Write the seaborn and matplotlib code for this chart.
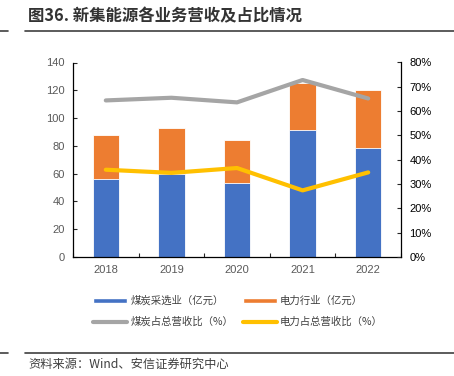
import numpy as np
import pandas as pd
import seaborn as sns
import matplotlib.pyplot as plt
from matplotlib.patches import Patch
from matplotlib.lines import Line2D

years = ["2018", "2019", "2020", "2021", "2022"]
coal_rev = [56.2, 60.0, 53.4, 91.1, 78.3]
power_rev = [31.6, 32.5, 30.6, 34.2, 42.0]
coal_share = [64.4, 65.5, 63.6, 72.8, 65.2]
power_share = [35.9, 34.6, 36.6, 27.4, 34.8]

BLUE = "#4472C4"
ORANGE = "#ED7D31"
GRAY = "#A5A5A5"
YELLOW = "#FFC000"

sns.set_style("white")
plt.rcParams["font.family"] = ["Noto Sans CJK SC", "DejaVu Sans"]

df = pd.DataFrame({
    "year": years,
    "coal": coal_rev,
    "total": np.array(coal_rev) + np.array(power_rev),
    "coal_share": coal_share,
    "power_share": power_share,
})

fig = plt.figure(figsize=(4.54, 3.76), dpi=100)
ax = fig.add_axes([73 / 454, 1 - 257 / 376, (401 - 73) / 454, (257 - 62.5) / 376])

# stacked bars: total in orange, coal part drawn over it
sns.barplot(data=df, x="year", y="total", color=ORANGE, width=0.4,
            edgecolor="white", linewidth=0.6, saturation=1, ax=ax)
sns.barplot(data=df, x="year", y="coal", color=BLUE, width=0.4,
            edgecolor="white", linewidth=0.6, saturation=1, ax=ax)

ax2 = ax.twinx()
xpos = np.arange(len(years))
sns.lineplot(x=xpos, y=df["coal_share"], color=GRAY, linewidth=3, ax=ax2)
sns.lineplot(x=xpos, y=df["power_share"], color=YELLOW, linewidth=3, ax=ax2)

ax.set_xlim(-0.5, 4.5)
ax.set_ylim(0, 140)
ax.set_yticks(range(0, 141, 20))
ax2.set_ylim(0, 80)
ax2.set_yticks(range(0, 81, 10))
ax2.set_yticklabels([f"{v}%" for v in range(0, 81, 10)])
ax.set_xlabel("")
ax.set_ylabel("")
ax2.set_ylabel("")

for a in (ax, ax2):
    for s in a.spines.values():
        s.set_visible(False)
ax.spines["left"].set_visible(True)
ax.spines["bottom"].set_visible(True)
ax2.spines["right"].set_visible(True)
for s in (ax.spines["left"], ax.spines["bottom"], ax2.spines["right"]):
    s.set_color("black")
    s.set_linewidth(0.9)

tick_font = "Liberation Sans"
ax.tick_params(axis="y", direction="in", length=3, width=0.8, left=True,
               labelsize=8, labelcolor="#595959", pad=6)
ax.tick_params(axis="x", which="major", length=0, labelsize=8,
               labelcolor="#595959", pad=6)
ax.set_xticks(np.arange(-0.5, 5, 1), minor=True)
ax.tick_params(axis="x", which="minor", direction="in", length=3, width=0.8, bottom=True)
ax2.tick_params(axis="y", direction="in", length=3, width=0.8, right=True,
                labelsize=8, labelcolor="black", pad=6)
for lab in ax.get_xticklabels() + ax.get_yticklabels() + ax2.get_yticklabels():
    lab.set_fontfamily(tick_font)

# title and frame lines
fig.text(28 / 454, 1 - 16 / 376, "图36. 新集能源各业务营收及占比情况", fontsize=11.8,
         fontweight="bold", color="#333333", va="center", ha="left")
for yy in (30.5, 353):
    fig.add_artist(Line2D([0, 8 / 454], [1 - yy / 376] * 2, color="#404040", linewidth=1.2))
    fig.add_artist(Line2D([25 / 454, 1], [1 - yy / 376] * 2, color="#404040", linewidth=1.2))
fig.text(28 / 454, 1 - 364 / 376, "资料来源：Wind、安信证券研究中心", fontsize=8.8,
         color="#404040", style="italic", va="center", ha="left")

# ncol=2 fills column-wise, so order handles for row-wise reading
handles = [
    Patch(facecolor=BLUE, label="煤炭采选业（亿元）"),
    Line2D([], [], color=GRAY, linewidth=3, label="煤炭占总营收比（%）"),
    Patch(facecolor=ORANGE, label="电力行业（亿元）"),
    Line2D([], [], color=YELLOW, linewidth=3, label="电力占总营收比（%）"),
]
fig.legend(handles=handles, ncol=2, loc="center", bbox_to_anchor=(238 / 454, 1 - 311.5 / 376),
           frameon=False, fontsize=7.5, handlelength=3.3, handleheight=0.5,
           columnspacing=0.9, handletextpad=0.3, labelspacing=1.0,
           labelcolor="#404040")

fig.savefig("out.png", dpi=100)
